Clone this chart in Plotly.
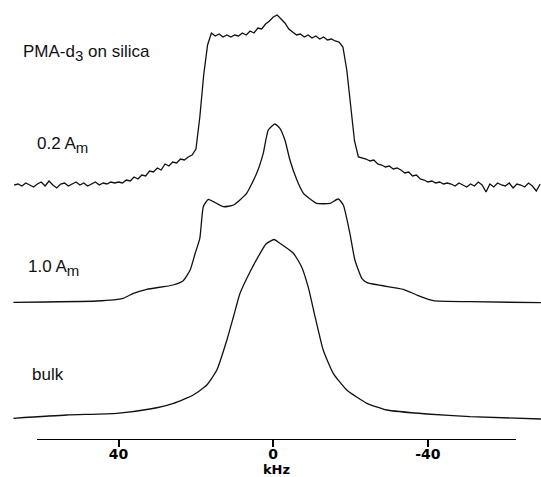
import numpy as np
import plotly.graph_objects as go

# ---------------- data ----------------
# top spectrum: 0.2 A_m, sampled every 1 kHz from 67 to -69 kHz
khz_top = np.arange(67, -70, -1)
int_top = [0, 1, -1, 2, 0, -2, 1, 3, -1, 4, 0, -3, 1, 2, -1, 1, 3, 0, 2, -1, 1, 3, 0, 2, 1, 3, 2,
           3, 2, 5, 4, 8, 6, 10, 9, 14, 13, 17, 15, 21, 19, 23, 22, 26, 25, 28, 30,
           36, 68, 110, 140, 152,
           149, 151, 148, 150, 148, 150, 149, 152, 150,
           154, 152, 157, 156, 161, 164,
           168, 170, 166, 162, 156, 153,
           150, 151, 148, 150, 147, 149, 146, 148, 145, 146, 144, 143,
           138, 115, 78, 44, 28,
           27, 26, 24, 25, 21, 20, 18, 19, 16, 17, 15, 12, 13,
           9, 10, 6, 5, 3, 4, 2, 3, 1, 2,
           1, -1, 2, 0, -2, 1, -1, 3, 0, -7, 1, -2, 2, 0, -1, 2, -3, 1, 0, -2, 2, -1, -6, 1]

# middle spectrum: 1.0 A_m
khz_mid = [67.2, 45.7, 38.8, 36.2, 32.7, 25.9, 23.3, 21.5, 20.2, 19.0, 18.1, 16.8, 15.5, 12.9,
           10.3, 6.9, 4.3, 2.6, 1.3, -0.4, -1.7, -3.0, -4.3, -6.1, -7.8, -11.2, -14.7, -16.8,
           -18.1, -19.8, -21.1, -22.9, -24.2, -33.6, -37.1, -41.4, -50.9, -69.2]
int_mid = [0.2, 1.5, 4.2, 9.2, 13.2, 17.5, 21.8, 32.5, 49.2, 64.2, 95.8, 103.2, 100.8, 95.8,
           97.5, 109.2, 129.2, 149.2, 172.5, 178.5, 174.2, 162.5, 142.5, 122.5, 109.2, 99.2, 99.2,
           103.5, 97.5, 69.2, 42.5, 24.2, 19.8, 13.2, 7.5, 1.8, 0.8, -0.2]

# bottom spectrum: bulk
khz_bulk = [67.2, 53.4, 40.5, 31.9, 25.8, 20.7, 17.2, 14.6, 12.0, 10.3, 8.6, 6.0, 3.4, 1.9, -0.2,
            -1.7, -5.2, -7.3, -9.0, -10.8, -12.9, -15.5, -19.0, -24.2, -29.3, -39.7, -50.9, -69.2]
int_bulk = [0.7, 4, 5.7, 10, 15.7, 24, 34, 49, 79, 102.3, 125.7, 147.3, 165.7, 175, 179.5,
            175.7, 165.7, 152.3, 132.3, 102.3, 69, 45.7, 29, 15.7, 9, 5, 2.3, 0]

offsets = [292, 174.5, 58]          # vertical stacking of the three traces
labels = ["0.2 A<sub><span style='font-size:15px'>m</span></sub>",
          "1.0 A<sub><span style='font-size:15px'>m</span></sub>", "bulk"]
title_text = "PMA-d<sub><span style='font-size:15px'>3</span></sub> on silica"
tick_vals = [40, 0, -40]
tick_text = ["40", "0", "-40"]

# ---------------- figure ----------------
fig = go.Figure()
ink = "#111111"
fig.add_trace(go.Scatter(x=khz_top, y=np.array(int_top) + offsets[0], mode="lines",
                         line=dict(color=ink, width=1.3), hoverinfo="skip"))
fig.add_trace(go.Scatter(x=khz_mid, y=np.array(int_mid) + offsets[1], mode="lines",
                         line=dict(color=ink, width=1.3, shape="spline", smoothing=0.5),
                         hoverinfo="skip"))
fig.add_trace(go.Scatter(x=khz_bulk, y=np.array(int_bulk) + offsets[2], mode="lines",
                         line=dict(color=ink, width=1.3, shape="spline", smoothing=0.5),
                         hoverinfo="skip"))
# carrier for the frequency axis (draws nothing)
fig.add_trace(go.Scatter(x=tick_vals, y=[None] * len(tick_vals), xaxis="x2", yaxis="y",
                         mode="lines", hoverinfo="skip"))

W, H = 541, 477
txt_font = dict(family="Liberation Sans", size=17, color=ink)
ann = [
    dict(text=title_text, x=21 / W, y=1 - 53 / H),
    dict(text=labels[0], x=35 / W, y=1 - 144.5 / H),
    dict(text=labels[1], x=26 / W, y=1 - 268 / H),
    dict(text=labels[2], x=30 / W, y=1 - 374.5 / H),
]
annotations = [dict(a, xref="paper", yref="paper", xanchor="left", yanchor="middle",
                    showarrow=False, font=txt_font) for a in ann]

fig.update_layout(
    width=W, height=H,
    margin=dict(l=0, r=0, t=0, b=0),
    paper_bgcolor="white", plot_bgcolor="rgba(0,0,0,0)",
    showlegend=False,
    xaxis=dict(domain=[0, 1], range=[70.67, -69.22], visible=False),
    yaxis=dict(domain=[0, 1], range=[0, 477], visible=False),
    xaxis2=dict(domain=[37.3 / W, 515.7 / W], range=[61.0, -62.7], anchor="free",
                position=(477 - 439.3) / 477, showline=True, linecolor="black", linewidth=1.3,
                ticks="outside", ticklen=7, tickwidth=1.6, tickcolor="black",
                ticklabelstandoff=-5,
                tickvals=tick_vals, ticktext=tick_text, showgrid=False, zeroline=False,
                tickfont=dict(family="DejaVu Sans", size=14, color="black", weight="bold"),
                title=dict(text="<b>kHz</b>", standoff=7,
                           font=dict(family="DejaVu Sans", size=13, color="black"))),
    annotations=annotations,
)

fig.write_html("out.html")
